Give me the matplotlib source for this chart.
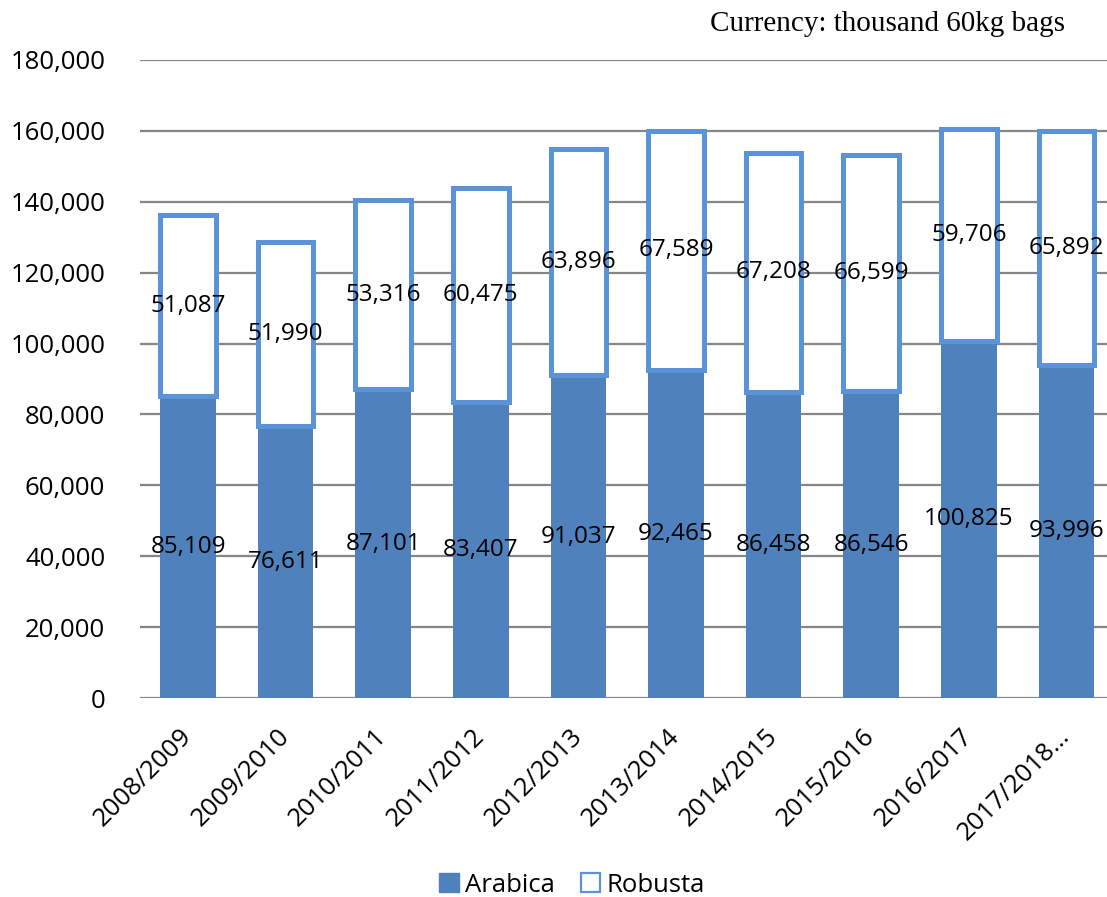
import matplotlib
matplotlib.use("Agg")
import matplotlib.pyplot as plt
import numpy as np
from matplotlib.patches import Patch

# crop years and production (thousand 60kg bags)
years = ["2008/2009", "2009/2010", "2010/2011", "2011/2012", "2012/2013",
         "2013/2014", "2014/2015", "2015/2016", "2016/2017", "2017/2018…"]
arabica = [85109, 76611, 87101, 83407, 91037, 92465, 86458, 86546, 100825, 93996]
robusta = [51087, 51990, 53316, 60475, 63896, 67589, 67208, 66599, 59706, 65892]
yticks = [0, 20000, 40000, 60000, 80000, 100000, 120000, 140000, 160000, 180000]

fill_col = "#4F81BD"
edge_col = "#5B93D9"
grid_col = "#868686"

plt.rcParams['font.family'] = ['Open Sans', 'DejaVu Sans']

fig = plt.figure(figsize=(11.07, 8.97), dpi=100)
ax = fig.add_axes([140/1107, 199/897, 1 - 140/1107, (698 - 60)/897])

x = np.arange(len(years))
w = 0.57
ax.bar(x, arabica, w, color=fill_col, zorder=3)
ax.bar(x, robusta, w, bottom=arabica, facecolor="white", edgecolor=edge_col,
       linewidth=3.6, zorder=3)

for i in range(len(years)):
    ax.text(x[i], arabica[i] / 2, f"{arabica[i]:,}", ha="center", va="center",
            fontsize=17.5, color="black", zorder=5)
    ax.text(x[i], arabica[i] + robusta[i] / 2, f"{robusta[i]:,}", ha="center",
            va="center", fontsize=17.5, color="black", zorder=5)

step = 97.6  # pixels per category
ax.set_ylim(0, 180000)
ax.set_xlim(-48 / step, -48 / step + (1107 - 140) / step)
ax.set_yticks(yticks)
ax.set_yticklabels([f"{v:,}" for v in yticks], fontsize=18.5)
ax.set_xticks(x)
ax.set_xticklabels(years, fontsize=18.5, rotation=45, ha="right", va="center",
                   rotation_mode="anchor")
ax.tick_params(axis="y", length=0, pad=25)
ax.tick_params(axis="x", length=0, pad=25)
ax.grid(axis="y", color=grid_col, linewidth=1.6, zorder=0)
for s in ax.spines.values():
    s.set_visible(False)

fig.text(1065/1107, 1 - 24/897, "Currency: thousand 60kg bags", ha="right",
         va="center", fontsize=21, family="Liberation Serif")

handles = [Patch(facecolor=fill_col, edgecolor=fill_col, label="Arabica"),
           Patch(facecolor="white", edgecolor=edge_col, linewidth=1.6, label="Robusta")]
fig.legend(handles=handles, loc="center", bbox_to_anchor=(572/1107, 1 - 885/897),
           ncol=2, frameon=False, fontsize=18.5, handlelength=0.75, handleheight=0.75,
           handletextpad=0.25, columnspacing=1.0)

fig.savefig("out.png", dpi=100)
